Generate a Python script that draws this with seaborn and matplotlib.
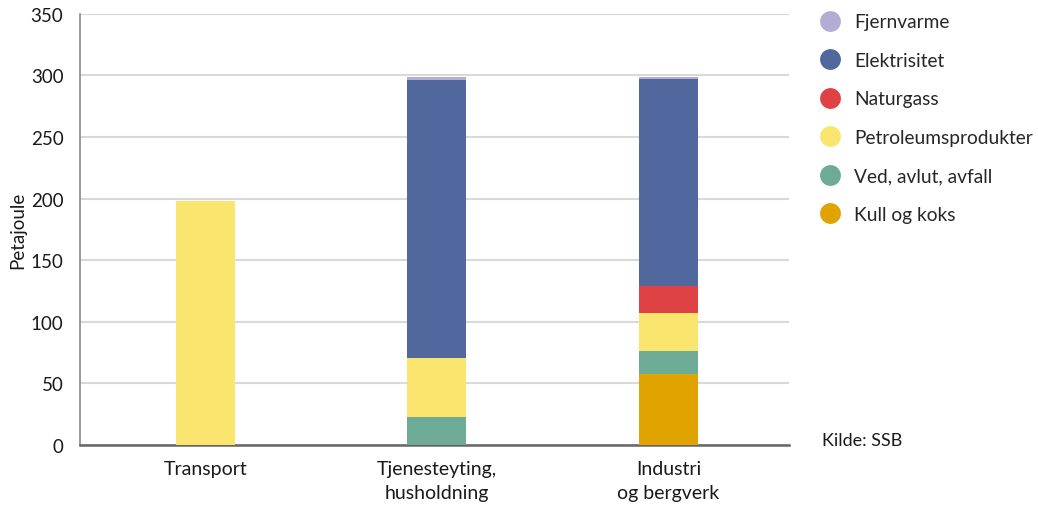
import numpy as np
import pandas as pd
import matplotlib
matplotlib.use("Agg")
import matplotlib.pyplot as plt
from matplotlib.lines import Line2D
import seaborn as sns

# Energy use by sector (petajoule), stacked by energy carrier
sectors = ["Transport", "Tjenesteyting,\nhusholdning", "Industri\nog bergverk"]
kull_og_koks = [0, 0, 58]
ved_avlut_avfall = [0, 23, 18]
petroleumsprodukter = [198, 48, 31]
naturgass = [0, 0, 22]
elektrisitet = [0, 225, 168]
fjernvarme = [0, 3, 2]

layers = ["Kull og koks", "Ved, avlut, avfall", "Petroleumsprodukter",
          "Naturgass", "Elektrisitet", "Fjernvarme"]
values = [kull_og_koks, ved_avlut_avfall, petroleumsprodukter,
          naturgass, elektrisitet, fjernvarme]
colors = ["#e0a300", "#6dab96", "#fae56e", "#de4245", "#51689f", "#b3acd4"]

sns.set_theme(style="white")
plt.rcParams["font.family"] = ["Lato", "DejaVu Sans"]

fig = plt.figure(figsize=(10.38, 5.06), dpi=100)
ax = fig.add_axes([0.0771, 0.1186, 0.683, 0.852])

# stack by drawing cumulative totals, tallest first
cum = np.cumsum(np.array(values, dtype=float), axis=0)
for i in range(len(layers) - 1, -1, -1):
    df = pd.DataFrame({"sektor": sectors, "verdi": cum[i]})
    sns.barplot(data=df, x="sektor", y="verdi", color=colors[i],
                width=0.254, saturation=1, ax=ax, zorder=3,
                linewidth=0, edgecolor="none")

ax.set_xlim(-0.54, 2.52)
ax.set_ylim(0, 350)
ax.set_yticks(np.arange(0, 351, 50))
ax.yaxis.grid(True, color="#d9d9d9", linewidth=1.5, zorder=0)
ax.set_axisbelow(True)
for s in ["top", "right"]:
    ax.spines[s].set_visible(False)
ax.spines["left"].set_color("#8a8a8a")
ax.spines["left"].set_linewidth(1.2)
ax.spines["bottom"].set_color("#666666")
ax.spines["bottom"].set_linewidth(1.8)
ax.tick_params(axis="y", length=0, labelsize=13.5, colors="#1a1a1a", pad=12)
ax.tick_params(axis="x", length=0, labelsize=14, colors="#1a1a1a", pad=11)
for lab in ax.get_xticklabels():
    lab.set_linespacing(1.45)
ax.set_xlabel("")
ax.set_ylabel("Petajoule", fontsize=13.5, color="#1a1a1a")
ax.yaxis.set_label_coords(-0.076, 0.5)

handles = [Line2D([], [], marker="o", linestyle="none", markersize=15,
                  markerfacecolor=colors[i], markeredgecolor="none")
           for i in range(len(layers) - 1, -1, -1)]
labels = [layers[i] for i in range(len(layers) - 1, -1, -1)]
fig.legend(handles, labels, loc="upper left", bbox_to_anchor=(0.769, 0.996),
           frameon=False, fontsize=13.8, labelspacing=1.12, handletextpad=0.25,
           borderaxespad=0.25)

fig.text(0.792, 0.128, "Kilde: SSB", fontsize=13, color="#1a1a1a",
         va="center", ha="left")

fig.savefig("out.png", dpi=100)
